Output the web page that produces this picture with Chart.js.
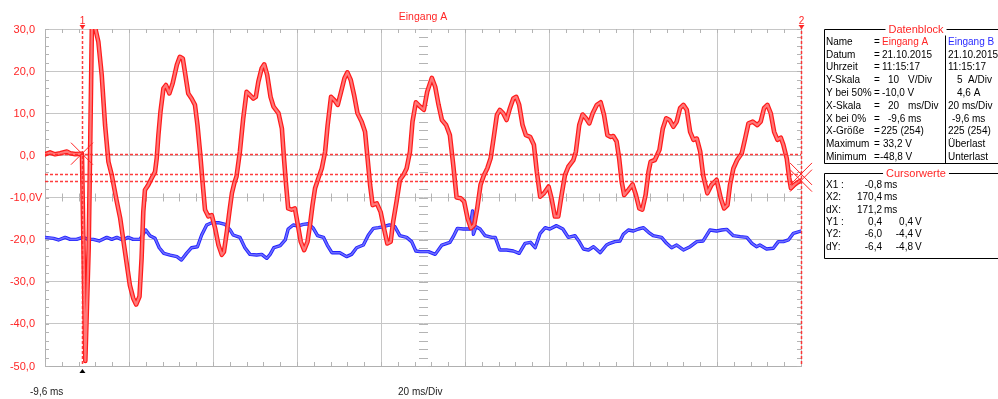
<!DOCTYPE html>
<html>
<head>
<meta charset="utf-8">
<script src="https://cdn.jsdelivr.net/npm/chart.js@4.4.0/dist/chart.umd.min.js"></script>
<style>
  html, body { margin: 0; padding: 0; background: #fff; overflow: hidden; }
  #wrap { position: relative; width: 998px; height: 399px; }
</style>
</head>
<body>
<div id="wrap"><canvas id="scope" width="998" height="399"></canvas></div>
<script>
// Eingang A: voltage over time (ms, V)
const timeA = [-9.6,-8.4,-7.2,-6.0,-4.4,-3.6,-2.4,-0.8,0.0,0.8,1.2,1.6,2.3,3.1,3.9,4.7,5.5,6.3,7.5,8.3,9.1,9.9,10.6,11.4,12.1,12.9,13.4,13.8,14.2,15.0,15.8,16.6,17.0,17.4,17.9,18.6,19.2,20.0,20.8,21.8,22.5,23.2,23.7,24.5,25.3,26.1,26.7,27.3,27.9,28.5,29.3,30.1,30.9,31.7,32.5,33.0,33.7,34.3,34.9,35.5,36.0,36.8,37.6,38.4,39.2,40.0,40.6,41.2,42.0,42.6,43.3,44.1,44.8,46.0,46.8,47.3,47.8,48.3,49.1,49.9,50.6,51.3,52.1,52.9,53.5,54.1,54.7,55.5,56.3,57.1,57.7,58.5,59.3,60.1,60.9,61.7,62.4,63.2,64.0,64.8,65.8,66.6,67.2,67.8,68.4,69.4,70.3,71.1,71.9,72.7,73.3,74.1,74.9,75.7,76.5,77.3,77.9,78.7,79.7,80.6,81.4,82.5,83.3,84.1,84.9,85.9,86.8,87.6,88.4,89.4,90.2,91.0,91.8,92.6,93.3,94.1,94.9,95.7,96.5,97.2,98.0,98.7,99.5,100.3,101.1,101.9,102.6,103.3,104.1,104.9,105.9,106.8,107.5,108.3,109.2,110.3,111.0,111.8,112.6,113.4,114.2,115.0,116.2,116.8,117.6,118.4,119.2,120.0,120.8,121.8,122.7,123.5,124.3,125.1,125.7,126.5,127.1,127.7,128.3,129.3,130.3,131.1,131.9,132.6,133.4,134.1,134.6,135.6,136.7,137.5,138.3,139.1,140.0,140.8,141.6,142.4,143.2,144.0,144.8,145.6,146.4,147.1,148.1,149.1,150.3,151.3,152.1,152.9,153.5,154.3,155.2,156.3,157.1,157.9,158.9,160.0,160.8,161.6,162.4,163.2,164.0,164.8,165.6,166.2,167.0,167.6,168.0,168.8,169.6,170.4];
const voltA = [0.25,0.7,0.25,0.5,0.9,0.5,0.3,0.4,-48.8,-22,5,33.2,30.5,27.0,19.1,7.2,-1.5,-4.7,-11.0,-14.9,-20.5,-26.0,-30.8,-33.9,-35.4,-33.5,-24.4,-13.4,-8.2,-7.0,-5.4,-3.9,-0.7,4.8,10.4,15.9,16.7,14.7,17.1,21.5,23.4,23.0,19.9,14.7,13.5,12.0,7.2,0.9,-6.2,-12.9,-14.5,-14.2,-17.3,-21.3,-23.6,-22.9,-18.1,-13.4,-9.0,-6.5,-5.0,0.9,8.8,15.1,14.3,13.5,13.9,17.5,20.7,21.6,19.1,13.9,11.6,10.0,6.4,-0.7,-7.0,-12.6,-12.9,-12.6,-16.5,-20.5,-22.5,-20.5,-16.5,-11.8,-7.8,-5.4,-3.1,0.9,7.2,13.9,13.1,12.0,15.1,18.3,19.7,17.9,14.3,10.0,8.0,5.6,-0.7,-7.0,-11.8,-11.4,-13.4,-17.3,-20.9,-20.5,-15.7,-11.0,-5.8,-4.7,-3.1,0.9,8.0,12.6,11.6,10.8,15.1,18.4,16.3,12.0,8.4,7.2,4.8,-2.3,-10.0,-10.2,-11.0,-14.9,-17.3,-16.5,-12.6,-7.0,-4.7,-3.1,-0.7,4.0,9.6,10.8,10.0,8.4,11.2,13.5,13.9,12.0,7.2,4.8,4.4,2.5,-3.9,-9.8,-9.0,-7.4,-10.2,-14.5,-14.5,-9.4,-4.7,-2.7,-1.1,0.9,7.2,9.7,8.8,7.6,10.0,12.0,12.6,9.6,4.8,4.4,4.6,3.3,-0.7,-6.2,-9.4,-8.2,-6.9,-9.4,-12.6,-12.9,-9.4,-3.9,-1.5,-1.1,1.3,6.4,8.8,8.4,6.8,8.0,11.2,12.0,10.8,5.6,3.7,4.0,0.9,-4.7,-9.0,-7.0,-5.8,-10.2,-12.6,-11.8,-7.0,-3.1,-1.1,0.5,4.0,7.6,8.0,7.2,8.0,11.2,12.0,10.0,5.6,3.7,4.2,2.5,-0.7,-5.4,-7.8,-7.0,-6.4,-6.0];

// Eingang B: current over time (ms, A)
const timeB = [-9.6,-7.6,-6.4,-4.8,-3.6,-2.1,-0.6,0.7,1.9,3.3,5.1,6.3,7.5,8.9,10.2,11.4,13.0,14.4,15.4,16.6,17.6,18.7,20.2,21.8,22.9,24.1,25.3,26.7,27.7,28.9,30.1,31.7,33.3,34.5,35.2,36.8,38.0,39.2,40.8,42.0,43.2,44.0,44.9,46.4,47.6,48.3,49.5,50.7,51.9,53.1,54.3,55.3,56.7,57.6,58.7,60.6,62.2,63.4,64.6,66.2,67.4,68.6,69.8,71.0,72.4,73.7,74.9,76.5,77.7,78.7,79.7,81.7,83.3,84.9,86.8,87.6,88.6,90.0,91.6,92.2,92.4,93.0,94.0,95.2,96.8,97.6,98.7,100.3,101.9,103.3,104.7,106.0,107.1,108.3,109.5,110.6,112.2,113.7,115.0,116.6,117.6,118.6,119.8,121.0,122.6,124.1,124.9,126.1,127.3,128.1,129.3,130.5,131.7,132.9,134.1,135.2,137.2,138.4,139.6,140.8,142.4,144.0,145.6,147.1,148.7,150.3,151.5,152.7,154.3,155.9,157.5,158.7,159.8,160.6,162.2,163.8,165.0,166.2,167.4,168.6,170.4];
const currentB = [-0.13,-0.25,-0.44,-0.13,-0.37,-0.37,-0.13,-0.37,-0.37,-0.56,-0.13,-0.37,-0.13,-0.44,-0.13,-0.37,-0.37,0.74,0.07,-0.25,-1.36,-2.03,-2.23,-2.42,-2.82,-2.03,-1.36,-1.24,0.15,1.34,1.61,1.61,1.41,0.74,0.15,-0.13,-1.36,-2.15,-2.23,-2.15,-2.62,-2.15,-1.36,-1.12,-0.44,0.86,1.34,1.22,1.41,1.49,0.94,0.07,-0.13,-1.04,-1.95,-1.95,-2.42,-2.15,-1.36,-1.04,0.15,0.94,1.02,1.14,1.34,1.14,0.07,-0.13,-0.64,-1.75,-1.83,-1.83,-2.15,-1.04,-0.72,-0.05,0.94,0.86,0.86,3.00,0.23,1.14,0.86,0.07,-0.13,-0.13,-1.63,-1.63,-1.75,-2.03,-0.84,-0.72,-1.36,0.35,1.02,0.86,1.26,0.86,-0.13,0.07,-0.64,-1.51,-1.63,-1.24,-1.95,-1.04,-0.84,-0.64,-0.56,0.23,0.74,0.62,0.86,1.02,0.47,0.07,-0.13,-0.84,-1.36,-1.04,-1.63,-1.24,-0.64,-0.56,0.74,0.62,0.74,0.82,0.07,-0.05,-0.13,-0.84,-1.24,-1.04,-1.51,-1.43,-0.64,-0.64,-0.44,0.35,0.62];

// Screen divisions: 9 x 20 ms starting at -9.6 ms, 8 x 10 V (A) / 5 A (B)
const xGridValues = [-9.6, 10.4, 30.4, 50.4, 70.4, 90.4, 110.4, 130.4, 150.4, 170.4];
const yTickValues = [30, 20, 10, 0, -10, -20, -30, -40, -50];
const bCenter = 4.6, bPerDiv = 5;

// Cursor positions
const cursorX = [-0.8, 170.4];
const cursorYA = [0.4, -6.0];
const cursorYB = [0.4, -4.4];

// Info panels
const dataBlockRows = ['Name', 'Datum', 'Uhrzeit', 'Y-Skala', 'Y bei 50%', 'X-Skala', 'X bei 0%', 'X-Größe', 'Maximum', 'Minimum'];
const cursorRows = ['X1 :', 'X2:', 'dX:', 'Y1 :', 'Y2:', 'dY:'];

const FONT = "'Liberation Sans', Arial, sans-serif";
const RED = '#ff2626';
const BLUE = '#2a2aff';

const toPts = (xs, ys) => xs.map((x, i) => ({ x, y: ys[i] }));
const fmt = v => v.toFixed(1).replace('.', ',');

const scopeDecor = {
  id: 'scopeDecor',
  beforeDraw(chart) {
    const { ctx } = chart;
    ctx.save();
    ctx.fillStyle = '#fff';
    ctx.fillRect(0, 0, chart.width, chart.height);
    ctx.restore();
  },
  beforeDatasetsDraw(chart) {
    const { ctx, chartArea: a, scales } = chart;
    const xs = scales.x, ys = scales.y;
    ctx.save();
    ctx.strokeStyle = '#b4b4b4';
    ctx.lineWidth = 1;
    ctx.beginPath();
    const xc = xs.getPixelForValue((xs.min + xs.max) / 2);
    const yc = ys.getPixelForValue(-10);
    for (let i = 0; i <= 45; i++) {
      const x = Math.round(xs.getPixelForValue(xs.min + i * 4)) + 0.5;
      ctx.moveTo(x, a.top); ctx.lineTo(x, a.top + 4);
      ctx.moveTo(x, a.bottom - 4); ctx.lineTo(x, a.bottom);
      ctx.moveTo(x, yc - 4); ctx.lineTo(x, yc + 4);
    }
    for (let j = 0; j <= 40; j++) {
      const y = Math.round(ys.getPixelForValue(30 - j * 2)) + 0.5;
      ctx.moveTo(a.left, y); ctx.lineTo(a.left + 4, y);
      ctx.moveTo(a.right - 4, y); ctx.lineTo(a.right, y);
      ctx.moveTo(Math.round(xc) - 4, y); ctx.lineTo(Math.round(xc) + 5, y);
    }
    ctx.stroke();
    ctx.restore();
  },
  afterDatasetsDraw(chart) {
    const { ctx, chartArea: a, scales } = chart;
    const xs = scales.x, ys = scales.y;
    ctx.save();
    // cursor lines
    ctx.strokeStyle = 'rgba(255,40,40,0.9)';
    ctx.lineWidth = 1.5;
    ctx.setLineDash([3, 2]);
    ctx.beginPath();
    cursorX.forEach(v => {
      const x = Math.round(xs.getPixelForValue(v)) + 0.5;
      ctx.moveTo(x, a.top - 3); ctx.lineTo(x, a.bottom);
    });
    [...new Set([...cursorYA, ...cursorYB])].forEach(v => {
      const y = Math.round(ys.getPixelForValue(v)) + 0.5;
      ctx.moveTo(a.left, y); ctx.lineTo(a.right, y);
    });
    ctx.stroke();
    ctx.setLineDash([]);
    // cursor crosses
    ctx.strokeStyle = RED;
    ctx.lineWidth = 1;
    const cross = (x, y, s) => {
      ctx.moveTo(x - s, y - s); ctx.lineTo(x + s, y + s);
      ctx.moveTo(x - s, y + s); ctx.lineTo(x + s, y - s);
    };
    ctx.beginPath();
    cross(xs.getPixelForValue(cursorX[0]), ys.getPixelForValue(cursorYA[0]), 11);
    cross(xs.getPixelForValue(cursorX[1]), ys.getPixelForValue(cursorYA[1]), 11);
    cross(xs.getPixelForValue(cursorX[1]), ys.getPixelForValue(cursorYB[1]), 11);
    ctx.stroke();
    // cursor numbers and markers
    ctx.fillStyle = RED;
    ctx.font = '10px ' + FONT;
    ctx.textAlign = 'center';
    ctx.textBaseline = 'alphabetic';
    cursorX.forEach((v, i) => {
      const x = xs.getPixelForValue(v);
      ctx.fillText(String(i + 1), x + 0.5, 24);
      ctx.beginPath();
      ctx.moveTo(x - 2.5, 25); ctx.lineTo(x + 3.5, 25); ctx.lineTo(x + 0.5, 29);
      ctx.fill();
    });
    ctx.fillStyle = '#000';
    const x1 = xs.getPixelForValue(cursorX[0]);
    ctx.beginPath();
    ctx.moveTo(x1 - 2.5, a.bottom + 7); ctx.lineTo(x1 + 3.5, a.bottom + 7); ctx.lineTo(x1 + 0.5, a.bottom + 3);
    ctx.fill();
    ctx.restore();
  },
  afterDraw(chart) {
    const { ctx, chartArea: a, scales } = chart;
    const ys = scales.y;
    ctx.save();
    // y labels
    ctx.font = '11px ' + FONT;
    ctx.fillStyle = RED;
    ctx.textBaseline = 'middle';
    yTickValues.forEach(v => {
      const y = ys.getPixelForValue(v);
      ctx.textAlign = 'right';
      ctx.fillText(fmt(v), a.left - 10, y + 0.5);
      if (v === -10) { ctx.textAlign = 'left'; ctx.fillText('V', a.left - 10, y + 0.5); }
    });
    // title
    ctx.font = '10.5px ' + FONT;
    ctx.textAlign = 'center';
    ctx.fillText('Eingang A', (a.left + a.right) / 2, 17);
    // bottom labels
    ctx.fillStyle = '#222';
    ctx.font = '10px ' + FONT;
    ctx.textAlign = 'left';
    ctx.fillText(fmt(scales.x.min) + ' ms', 30, 392);
    ctx.fillText('20 ms/Div', 398, 392);

    // Datenblock panel
    const bx = 824.5;
    ctx.strokeStyle = '#000';
    ctx.lineWidth = 1;
    ctx.beginPath();
    ctx.moveTo(1000, 29.5); ctx.lineTo(bx, 29.5); ctx.lineTo(bx, 163.5); ctx.lineTo(1000, 163.5);
    ctx.moveTo(945.5, 34); ctx.lineTo(945.5, 163.5);
    ctx.moveTo(1000, 173.5); ctx.lineTo(bx, 173.5); ctx.lineTo(bx, 258.5); ctx.lineTo(1000, 258.5);
    ctx.stroke();
    ctx.font = '11px ' + FONT;
    ctx.textAlign = 'center';
    ctx.textBaseline = 'middle';
    const titleBox = (t, y) => {
      const w = ctx.measureText(t).width;
      ctx.fillStyle = '#fff';
      ctx.fillRect(916 - w / 2 - 3, y - 6, w + 6, 12);
      ctx.fillStyle = RED;
      ctx.fillText(t, 916, y + 0.5);
    };
    titleBox('Datenblock', 29.5);
    titleBox('Cursorwerte', 173.5);

    ctx.font = '10px ' + FONT;
    ctx.textAlign = 'left';
    const rowY = i => 42 + i * 12.8;
    dataBlockRows.forEach((r, i) => {
      ctx.fillStyle = '#000';
      ctx.fillText(r, 826, rowY(i));
      ctx.fillText('=', 874, rowY(i));
    });
    const put = (t, x, i, c) => { ctx.fillStyle = c || '#000'; ctx.fillText(t, x, rowY(i)); };
    put('Eingang A', 882, 0, RED);
    put('21.10.2015', 882, 1);
    put('11:15:17', 882, 2);
    put('10', 888, 3); put('V/Div', 908, 3);
    put('-10,0 V', 882, 4);
    put('20', 888, 5); put('ms/Div', 908, 5);
    put('-9,6 ms', 888, 6);
    put('225 (254)', 881, 7);
    put('33,2 V', 883, 8);
    put('-48,8 V', 880, 9);
    put('Eingang B', 948, 0, BLUE);
    put('21.10.2015', 948, 1);
    put('11:15:17', 948, 2);
    put('5', 957, 3); put('A/Div', 968, 3);
    put('4,6 A', 957, 4);
    put('20', 948, 5); put('ms/Div', 962, 5);
    put('-9,6 ms', 952, 6);
    put('225 (254)', 948, 7);
    put('Überlast', 948, 8);
    put('Unterlast', 948, 9);

    const cy = i => 185 + i * 12.4;
    ctx.fillStyle = '#000';
    cursorRows.forEach((r, i) => ctx.fillText(r, 826, cy(i)));
    const rnum = (t, x, i) => { ctx.textAlign = 'right'; ctx.fillText(t, x, cy(i)); };
    const lab = (t, x, i) => { ctx.textAlign = 'left'; ctx.fillText(t, x, cy(i)); };
    rnum(fmt(cursorX[0]), 882, 0); lab('ms', 884, 0);
    rnum(fmt(cursorX[1]), 882, 1); lab('ms', 884, 1);
    rnum(fmt(cursorX[1] - cursorX[0]), 882, 2); lab('ms', 884, 2);
    rnum(fmt(cursorYA[0]), 882, 3); rnum(fmt(cursorYB[0]), 913, 3); lab('V', 915, 3);
    rnum(fmt(cursorYA[1]), 882, 4); rnum(fmt(cursorYB[1]), 913, 4); lab('V', 915, 4);
    rnum(fmt(cursorYA[1] - cursorYA[0]), 882, 5); rnum(fmt(cursorYB[1] - cursorYB[0]), 913, 5); lab('V', 915, 5);
    ctx.restore();
  }
};

const ptsA = toPts(timeA, voltA);
const ptsB = toPts(timeB, currentB);
const common = { pointRadius: 0, tension: 0, fill: false, clip: 0, borderJoinStyle: 'round', borderCapStyle: 'round' };

new Chart(document.getElementById('scope'), {
  type: 'line',
  data: {
    datasets: [
      { ...common, label: 'Eingang A', data: ptsA, yAxisID: 'y', borderColor: '#ff7878', borderWidth: 2.2, order: 0 },
      { ...common, label: 'Eingang A', data: ptsA, yAxisID: 'y', borderColor: '#ff1a1a', borderWidth: 4.6, order: 1 },
      { ...common, label: 'Eingang B', data: ptsB, yAxisID: 'yB', borderColor: '#6f6fff', borderWidth: 1.6, order: 2 },
      { ...common, label: 'Eingang B', data: ptsB, yAxisID: 'yB', borderColor: '#2020ff', borderWidth: 3.4, order: 3 }
    ]
  },
  options: {
    responsive: false,
    animation: false,
    events: [],
    layout: { padding: { left: 45, top: 29, right: 197, bottom: 33 } },
    plugins: { legend: { display: false }, tooltip: { enabled: false }, title: { display: false } },
    scales: {
      x: {
        type: 'linear', min: xGridValues[0], max: xGridValues[xGridValues.length - 1],
        afterBuildTicks: s => { s.ticks = xGridValues.map(v => ({ value: v })); },
        ticks: { display: false },
        grid: { color: '#c6c6c6', lineWidth: 1, drawTicks: false },
        border: { display: true, color: '#b0b0b0' }
      },
      y: {
        type: 'linear', min: -50, max: 30,
        afterBuildTicks: s => { s.ticks = yTickValues.map(v => ({ value: v })); },
        ticks: { display: false },
        grid: { color: '#c6c6c6', lineWidth: 1, drawTicks: false },
        border: { display: true, color: '#b0b0b0' }
      },
      yB: {
        type: 'linear', display: false,
        min: bCenter - 4 * bPerDiv, max: bCenter + 4 * bPerDiv
      }
    }
  },
  plugins: [scopeDecor]
});
</script>
</body>
</html>
